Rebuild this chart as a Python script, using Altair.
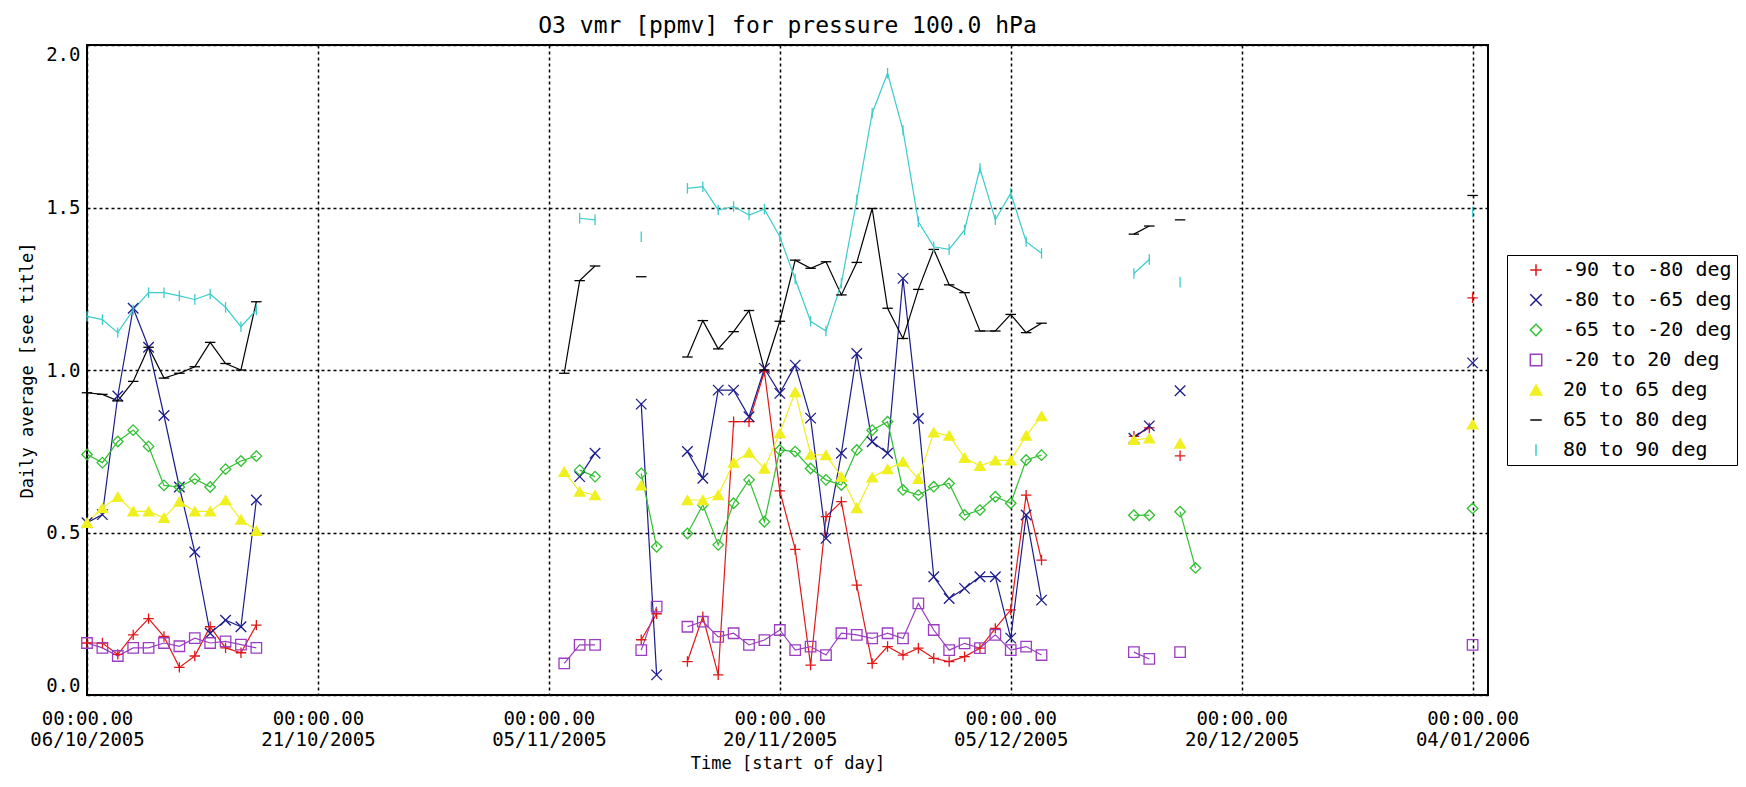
import altair as alt
import pandas as pd

START = "2005-10-06"
END = "2006-01-05"

series_names = ["-90 to -80 deg", "-80 to -65 deg", "-65 to -20 deg", "-20 to 20 deg",
                "20 to 65 deg", "65 to 80 deg", "80 to 90 deg"]
series_colors = ["#e01818", "#1c1c8c", "#30c030", "#9b3dc2", "#f0f020", "#000000", "#3ccccc"]
series_shapes = ["M-1,0L1,0M0,-1L0,1", "M-1,-1L1,1M-1,1L1,-1", "diamond", "square",
                 "triangle-up", "M-1,0L1,0", "M0,-1L0,1"]
series_fills = ["transparent", "transparent", "transparent", "transparent",
                "#f0f020", "transparent", "transparent"]

mid_days = list(range(39, 63))

red_days = list(range(0, 12)) + [36, 37] + mid_days + [68, 69, 71, 90]
red_vals = [0.16, 0.16, 0.125, 0.185, 0.235, 0.18, 0.085, 0.12, 0.21, 0.145, 0.13, 0.215,
            0.17, 0.25,
            0.103, 0.241, 0.062, 0.841, 0.841, 0.995, 0.628, 0.448, 0.092, 0.549, 0.595, 0.338,
            0.097, 0.149, 0.123, 0.144, 0.113, 0.103, 0.118, 0.144, 0.205, 0.262, 0.615, 0.415,
            0.796, 0.822, 0.736, 1.222]

blue_days = list(range(0, 12)) + [32, 33, 36, 37] + mid_days + [68, 69, 71, 90]
blue_vals = [0.53, 0.555, 0.92, 1.19, 1.07, 0.86, 0.64, 0.44, 0.19, 0.23, 0.21, 0.60,
             0.672, 0.744, 0.895, 0.062,
             0.749, 0.667, 0.938, 0.938, 0.856, 1.005, 0.928, 1.015, 0.852, 0.482, 0.744, 1.051,
             0.779, 0.744, 1.282, 0.851, 0.364, 0.297, 0.328, 0.364, 0.364, 0.175, 0.554, 0.292,
             0.79, 0.828, 0.936, 1.022]

green_days = list(range(0, 12)) + [32, 33, 36, 37] + mid_days + [68, 69, 71, 72, 90]
green_vals = [0.74, 0.715, 0.78, 0.815, 0.765, 0.645, 0.64, 0.665, 0.64, 0.695, 0.72, 0.735,
              0.692, 0.672, 0.682, 0.456,
              0.497, 0.585, 0.462, 0.59, 0.662, 0.533, 0.754, 0.749, 0.697, 0.662, 0.646, 0.754,
              0.815, 0.841, 0.631, 0.615, 0.641, 0.651, 0.554, 0.569, 0.61, 0.59, 0.723, 0.738,
              0.553, 0.553, 0.564, 0.391, 0.574]

purple_days = list(range(0, 12)) + [31, 32, 33, 36, 37] + mid_days + [68, 69, 71, 90]
purple_vals = [0.16, 0.145, 0.12, 0.145, 0.145, 0.16, 0.15, 0.175, 0.16, 0.165, 0.155, 0.145,
               0.097, 0.154, 0.154, 0.138, 0.272,
               0.21, 0.226, 0.179, 0.19, 0.154, 0.169, 0.2, 0.138, 0.149, 0.123, 0.19, 0.185,
               0.174, 0.19, 0.174, 0.282, 0.2, 0.138, 0.159, 0.144, 0.185, 0.138, 0.149, 0.123,
               0.132, 0.111, 0.132, 0.154]

yellow_days = list(range(0, 12)) + [31, 32, 33, 36] + mid_days + [68, 69, 71, 90]
yellow_vals = [0.53, 0.575, 0.61, 0.565, 0.565, 0.545, 0.595, 0.565, 0.565, 0.60, 0.54, 0.505,
               0.687, 0.626, 0.615, 0.645,
               0.60, 0.60, 0.615, 0.715, 0.746, 0.697, 0.806, 0.932, 0.74, 0.738, 0.672, 0.575,
               0.67, 0.695, 0.718, 0.665, 0.808, 0.798, 0.73, 0.705, 0.722, 0.722, 0.798, 0.858,
               0.785, 0.79, 0.774, 0.833]

black_days = list(range(0, 12)) + [31, 32, 33, 36] + mid_days + [68, 69, 71, 90]
black_vals = [0.93, 0.925, 0.905, 0.965, 1.07, 0.975, 0.99, 1.01, 1.085, 1.02, 1.0, 1.21,
              0.99, 1.275, 1.32, 1.287,
              1.04, 1.152, 1.065, 1.118, 1.183, 1.0, 1.15, 1.338, 1.313, 1.333, 1.231, 1.331,
              1.497, 1.19, 1.097, 1.248, 1.371, 1.262, 1.238, 1.12, 1.12, 1.171, 1.115, 1.144,
              1.418, 1.443, 1.462, 1.537]

cyan_days = list(range(0, 12)) + [32, 33, 36] + mid_days + [68, 69, 71, 90]
cyan_vals = [1.165, 1.155, 1.115, 1.185, 1.238, 1.238, 1.228, 1.217, 1.234, 1.193, 1.133, 1.185,
             1.467, 1.462, 1.41,
             1.559, 1.564, 1.492, 1.503, 1.477, 1.495, 1.41, 1.28, 1.15, 1.12, 1.267, 1.523,
             1.79, 1.913, 1.738, 1.456, 1.379, 1.371, 1.431, 1.62, 1.462, 1.544, 1.395, 1.359,
             1.297, 1.34, 1.27, 1.486]

tick_dates = ["2005-10-06", "2005-10-21", "2005-11-05", "2005-11-20",
              "2005-12-05", "2005-12-20", "2006-01-04"]
tick_time_label = "00:00.00"
y_ticks = [0.0, 0.5, 1.0, 1.5, 2.0]

title_text = "O3 vmr [ppmv] for pressure 100.0 hPa"
x_title = "Time [start of day]"
y_title = "Daily average [see title]"


def ms(d):
    return int(pd.Timestamp(d, tz="UTC").value // 10**6)


DAY_MS = 86400000
t0 = ms(START)

all_days = [red_days, blue_days, green_days, purple_days, yellow_days, black_days, cyan_days]
all_vals = [red_vals, blue_vals, green_vals, purple_vals, yellow_vals, black_vals, cyan_vals]

rows = []
for order, (name, days, vals) in enumerate(zip(series_names, all_days, all_vals)):
    seg = 0
    prev = None
    for d, v in zip(days, vals):
        if prev is not None and d - prev != 1:
            seg += 1
        prev = d
        rows.append({"series": name, "order": order, "t": t0 + d * DAY_MS, "v": v,
                     "seg": f"{order}_{seg}"})
df = pd.DataFrame(rows)

FONT = "DejaVu Sans Mono"

x_enc = alt.X(
    "t:T",
    scale=alt.Scale(type="utc", domain=[ms(START), ms(END)], nice=False),
    axis=alt.Axis(
        values=[ms(d) for d in tick_dates],
        labelExpr="['" + tick_time_label + "', utcFormat(datum.value, '%d/%m/%Y')]",
        labelFontSize=19,
        labelLineHeight=21,
        labelBaseline="top",
        labelPadding=14,
        labelFlush=False,
        labelAlign="center",
        labelOverlap=False,
        titleFontSize=17,
        titlePadding=6,
    ),
    title=x_title,
)
y_enc = alt.Y(
    "v:Q",
    scale=alt.Scale(domain=[0, 2], nice=False, zero=False),
    axis=alt.Axis(
        values=y_ticks,
        format=".1f",
        labelFontSize=19,
        labelPadding=7,
        labelFlush=True,
        titleFontSize=17,
        titlePadding=9,
    ),
    title=y_title,
)

color_scale = alt.Scale(domain=series_names, range=series_colors)
shape_scale = alt.Scale(domain=series_names, range=series_shapes)
fill_scale = alt.Scale(domain=series_names, range=series_fills)

lines = alt.Chart(df).mark_line(strokeWidth=1.2).encode(
    x=x_enc,
    y=y_enc,
    color=alt.Color("series:N", scale=color_scale, title=None),
    detail="seg:N",
)

points = alt.Chart(df).mark_point(filled=False, size=110, strokeWidth=1.3, opacity=1).encode(
    x=x_enc,
    y=y_enc,
    color=alt.Color("series:N", scale=color_scale, title=None),
    shape=alt.Shape("series:N", scale=shape_scale, title=None),
    fill=alt.Fill("series:N", scale=fill_scale, title=None),
)

chart = (
    alt.layer(lines, points)
    .properties(
        width=1401,
        height=650,
        title=title_text,
        autosize=alt.AutoSizeParams(type="none"),
        padding={"left": 79, "top": 37, "right": 250, "bottom": 84},
    )
    .configure_view(stroke="black", strokeWidth=2)
    .configure_axis(
        grid=True,
        gridColor="black",
        gridDash=[3, 3],
        gridWidth=1.5,
        gridOpacity=1,
        domain=False,
        ticks=False,
        labelFont=FONT,
        labelColor="black",
        titleFont=FONT,
        titleFontWeight="normal",
        titleColor="black",
    )
    .configure_title(font=FONT, fontSize=23, fontWeight="normal", color="black",
                     anchor="middle", offset=7)
    .configure_legend(
        orient="none",
        legendX=1420,
        legendY=210,
        strokeColor="black",
        fillColor="white",
        padding=5,
        labelFont=FONT,
        labelFontSize=20,
        labelColor="black",
        labelLimit=400,
        rowPadding=10,
        symbolSize=130,
        symbolStrokeWidth=1.5,
        symbolOffset=14,
        labelOffset=17,
    )
)

chart.save("out.html", embed_options={"renderer": "svg", "actions": False})
